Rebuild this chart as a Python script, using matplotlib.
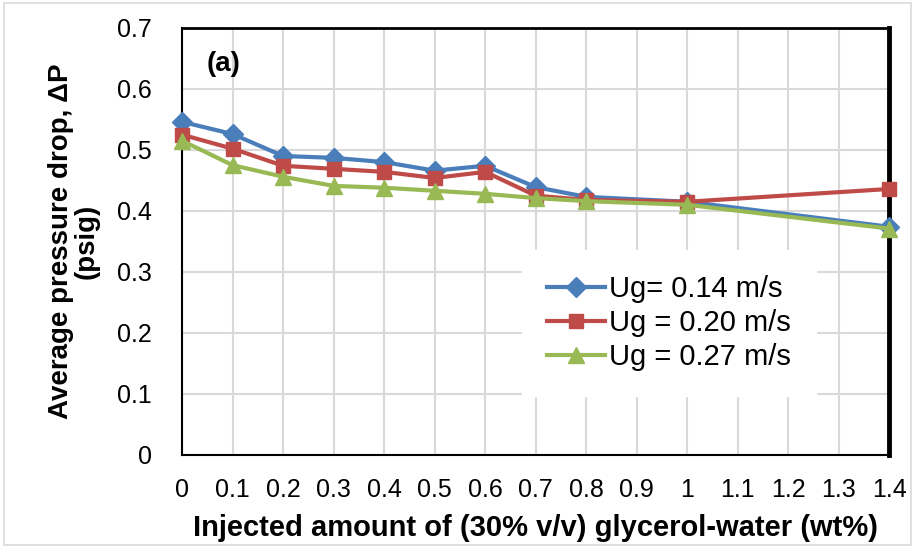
import matplotlib
matplotlib.use("Agg")
import matplotlib.pyplot as plt
from matplotlib.patches import Rectangle

plt.rcParams['font.family'] = ['Liberation Sans', 'DejaVu Sans']

x = [0, 0.1, 0.2, 0.3, 0.4, 0.5, 0.6, 0.7, 0.8, 1.0, 1.4]
ug014 = [0.546, 0.526, 0.490, 0.487, 0.480, 0.466, 0.474, 0.439, 0.423, 0.415, 0.374]
ug020 = [0.525, 0.502, 0.474, 0.469, 0.464, 0.454, 0.464, 0.425, 0.418, 0.415, 0.436]
ug027 = [0.515, 0.475, 0.456, 0.441, 0.438, 0.433, 0.428, 0.421, 0.416, 0.410, 0.371]
labels = ["Ug= 0.14 m/s", "Ug = 0.20 m/s", "Ug = 0.27 m/s"]
xticks = [0, 0.1, 0.2, 0.3, 0.4, 0.5, 0.6, 0.7, 0.8, 0.9, 1, 1.1, 1.2, 1.3, 1.4]
xticklabels = ["0", "0.1", "0.2", "0.3", "0.4", "0.5", "0.6", "0.7", "0.8", "0.9", "1", "1.1", "1.2", "1.3", "1.4"]
yticks = [0, 0.1, 0.2, 0.3, 0.4, 0.5, 0.6, 0.7]
yticklabels = ["0", "0.1", "0.2", "0.3", "0.4", "0.5", "0.6", "0.7"]

fig = plt.figure(figsize=(9.15, 5.48), dpi=100)
fig.patches.append(Rectangle((0.004, 0.006), 0.992, 0.988, transform=fig.transFigure,
                             fill=False, edgecolor='#d9d9d9', linewidth=1.2))
ax = fig.add_axes([0.199, 0.170, 0.773, 0.779])

series = [(ug014, '#4a7ebb', 'D', 10), (ug020, '#be4b48', 's', 10), (ug027, '#98b954', '^', 11)]
for (vals, c, m, ms), lab in zip(series, labels):
    ax.plot(x, vals, color=c, marker=m, markersize=ms, linewidth=3, label=lab, clip_on=False, zorder=3)

ax.set_xlim(0, 1.4)
ax.set_ylim(0, 0.7)
ax.set_xticks(xticks)
ax.set_xticklabels(xticklabels)
ax.set_yticks(yticks)
ax.set_yticklabels(yticklabels)
ax.tick_params(axis='x', length=0, labelsize=18, pad=17)
ax.tick_params(axis='y', length=0, labelsize=18, pad=22)
ax.grid(True, color='#d9d9d9', linewidth=1.5)
ax.set_axisbelow(True)
for s in ax.spines.values():
    s.set_color('black')
ax.spines['left'].set_linewidth(1.5)
ax.spines['bottom'].set_linewidth(1.5)
ax.spines['top'].set_linewidth(2)
ax.spines['right'].set_linewidth(3.5)

ax.set_xlabel("Injected amount of (30% v/v) glycerol-water (wt%)", fontsize=21, fontweight='bold', labelpad=8)
ax.set_ylabel("Average pressure drop, ΔP\n(psig)", fontsize=20, fontweight='bold', labelpad=12, linespacing=1.0)
ax.text(0.035, 0.9, "(a)", transform=ax.transAxes, fontsize=20, fontweight='bold')

leg = ax.legend(loc='upper left', bbox_to_anchor=(0.505, 0.438), fontsize=21, frameon=True,
                fancybox=False, edgecolor='white', framealpha=1, handlelength=2.0,
                borderpad=0.25, labelspacing=0.2, handletextpad=0.15, borderaxespad=0)
leg._legend_box.align = 'left'
leg.get_frame().set_boxstyle('square', pad=0.6)

fig.savefig("out.png", dpi=100)
